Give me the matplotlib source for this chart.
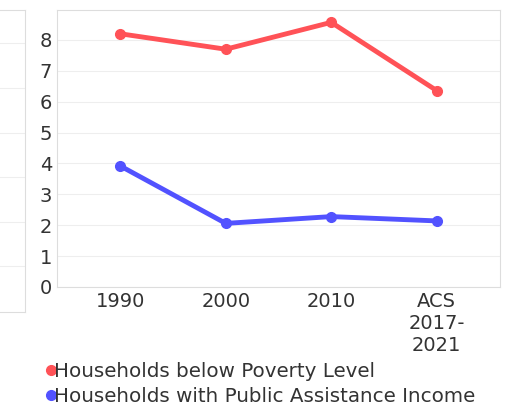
import matplotlib
matplotlib.use('Agg')
import matplotlib.pyplot as plt

years = ['1990', '2000', '2010', 'ACS\n2017-\n2021']
poverty = [8.2, 7.7, 8.57, 6.36]
assistance = [3.92, 2.06, 2.28, 2.14]
red = '#ff5257'
blue = '#5252ff'
W, H = 510, 408

fig = plt.figure(figsize=(5.1, 4.08), dpi=100, facecolor='white')

# partial neighbouring panel on the left
lax = fig.add_axes([-0.5, 1 - 312 / H, (25 + 255) / W, (312 - 10) / H])
lax.set_xlim(0, 1)
lax.set_ylim(0, 302)
for y in [312 - 43, 312 - 88, 312 - 133, 312 - 177, 312 - 222, 312 - 266]:
    lax.axhline(y, color='#eeeeee', lw=0.8)
lax.set_xticks([]); lax.set_yticks([])
for s in lax.spines.values():
    s.set_color('#dddddd')

ax = fig.add_axes([57 / W, 1 - 287 / H, (500 - 57) / W, (287 - 10) / H])
x = range(len(years))
ax.plot(x, poverty, color=red, lw=3.5, marker='o', ms=7, label='Households below Poverty Level')
ax.plot(x, assistance, color=blue, lw=3.5, marker='o', ms=7, label='Households with Public Assistance Income')
ax.set_xlim(-0.6, 3.6)
ax.set_ylim(0, 8.97)
ax.set_yticks(range(9))
ax.set_xticks(list(x))
ax.set_xticklabels(years)
ax.tick_params(labelsize=14, colors='#333333', length=0)
ax.grid(axis='y', color='#eeeeee', lw=0.8)
for s in ax.spines.values():
    s.set_color('#dddddd')

leg = fig.legend(loc='upper left', bbox_to_anchor=(51 / W, 1 - 362 / H), frameon=False, fontsize=14.3,
                 handlelength=0, handletextpad=0.15, labelspacing=0.3,
                 labelcolor='#333333', borderaxespad=0, borderpad=0)
for h in leg.legend_handles:
    h.set_linewidth(0)

fig.savefig('out.png', dpi=100, facecolor='white')
